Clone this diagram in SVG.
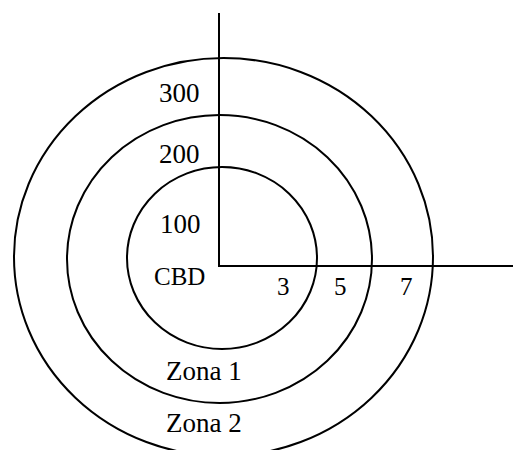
<svg xmlns="http://www.w3.org/2000/svg" width="513" height="450" viewBox="0 0 513 450">
<style>
.ring{fill:none;stroke:#000;stroke-width:2}
.axis{fill:none;stroke:#000;stroke-width:2}
text{font-family:"Liberation Serif","Times New Roman",serif;font-size:27px;fill:#000}
.s{font-size:25px}
</style>
<rect width="513" height="450" fill="#fff"/>
<g id="zone2">
<ellipse class="ring" cx="223.5" cy="257" rx="209.5" ry="199"/>
<text x="166" y="432">Zona 2</text>
<text x="159" y="102">300</text>
</g>
<g id="zone1">
<ellipse class="ring" cx="219.5" cy="259" rx="152.5" ry="144"/>
<text x="166" y="380">Zona 1</text>
<text x="159" y="163">200</text>
</g>
<g id="cbd">
<ellipse class="ring" cx="222" cy="258" rx="95" ry="91"/>
<text x="160" y="233">100</text>
<text class="s" x="154" y="285">CBD</text>
</g>
<g id="connectors">
<polyline class="axis" points="219,13 219,266 513,266"/>
</g>
<g id="axis-labels">
<text class="s" x="277" y="295">3</text>
<text class="s" x="334" y="295">5</text>
<text class="s" x="400" y="295">7</text>
</g>
</svg>
